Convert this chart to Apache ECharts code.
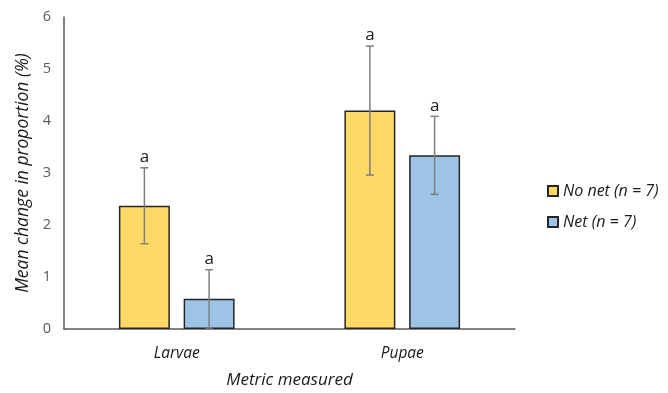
<!DOCTYPE html>
<html>
<head>
<meta charset="utf-8">
<script src="https://cdn.jsdelivr.net/npm/echarts@6/dist/echarts.min.js"></script>
<style>html,body{margin:0;padding:0;background:#fff;}#c{width:668px;height:393px;}</style>
</head>
<body>
<div id="c"></div>
<script>
var categories = ['Larvae', 'Pupae'];
var seriesNames = ['No net (n = 7)', 'Net (n = 7)'];
var noNetValues = [2.37, 4.20];
var netValues = [0.58, 3.34];
var noNetErrors = [0.73, 1.24];
var netErrors = [0.56, 0.75];
var noNetLetters = ['a', 'a'];
var netLetters = ['a', 'a'];
var yTicks = [0, 1, 2, 3, 4, 5, 6];

var FONT = 'Open Sans';
var BAR_W = 0.226, BAR_GAP = 0.27;

function errSeries(idx, values, errors, letters) {
  var data = values.map(function (v, i) { return [i, v, errors[i], letters[i]]; });
  return {
    type: 'custom',
    z: 10,
    silent: true,
    data: data,
    renderItem: function (params, api) {
      var ci = api.value(0), v = api.value(1), e = api.value(2);
      var band = api.size([1, 0])[0];
      var w = band * BAR_W, g = w * BAR_GAP;
      var off = (idx === 0 ? -1 : 1) * (w + g) / 2;
      var top = api.coord([ci, v + e]);
      var bot = api.coord([ci, Math.max(0, v - e)]);
      var x = top[0] + off;
      var cap = 4;
      var st = { stroke: '#7f7f7f', lineWidth: 1.5 };
      return {
        type: 'group',
        children: [
          { type: 'line', shape: { x1: x, y1: top[1], x2: x, y2: bot[1] }, style: st },
          { type: 'line', shape: { x1: x - cap, y1: top[1], x2: x + cap, y2: top[1] }, style: st },
          { type: 'line', shape: { x1: x - cap, y1: bot[1], x2: x + cap, y2: bot[1] }, style: st },
          { type: 'text', x: x, y: top[1] - 2, style: { text: data[params.dataIndex][3], fill: '#1a1a1a', font: '17px "' + FONT + '"', textAlign: 'center', textVerticalAlign: 'bottom' } }
        ]
      };
    }
  };
}

var chart = echarts.init(document.getElementById('c'));
chart.setOption({
  animation: false,
  backgroundColor: '#fff',
  grid: { left: 64, right: 153, top: 17, bottom: 64, outerBoundsMode: 'none', containLabel: false },
  legend: {
    orient: 'vertical',
    left: 542, top: 178,
    itemWidth: 10, itemHeight: 10, itemGap: 15,
    icon: 'rect',
    data: seriesNames,
    textStyle: { fontFamily: FONT, fontStyle: 'italic', fontSize: 16, color: '#1a1a1a' }
  },
  xAxis: {
    type: 'category',
    data: categories,
    name: 'Metric measured',
    nameLocation: 'middle',
    nameGap: 43,
    nameTextStyle: { fontFamily: FONT, fontStyle: 'italic', fontSize: 17, color: '#1a1a1a' },
    axisLine: { lineStyle: { color: '#595959', width: 1.5 } },
    axisTick: { show: false },
    axisLabel: { margin: 17, fontFamily: FONT, fontStyle: 'italic', fontSize: 15.5, color: '#1a1a1a' }
  },
  yAxis: {
    type: 'value',
    min: yTicks[0], max: yTicks[yTicks.length - 1], interval: 1,
    name: 'Mean change in proportion (%)',
    nameLocation: 'middle',
    nameGap: 31,
    nameTextStyle: { fontFamily: FONT, fontStyle: 'italic', fontSize: 17.5, color: '#1a1a1a' },
    axisLine: { show: true, lineStyle: { color: '#595959', width: 1.5 } },
    axisTick: { show: false },
    splitLine: { show: false },
    axisLabel: { margin: 13, fontFamily: FONT, fontSize: 14.5, color: '#595959' }
  },
  series: [
    { name: seriesNames[0], type: 'bar', data: noNetValues, barWidth: (BAR_W * 100) + '%', barGap: (BAR_GAP * 100) + '%',
      itemStyle: { color: '#FFD966', borderColor: '#262626', borderWidth: 1.5 } },
    { name: seriesNames[1], type: 'bar', data: netValues, barWidth: (BAR_W * 100) + '%', barGap: (BAR_GAP * 100) + '%',
      itemStyle: { color: '#9DC3E6', borderColor: '#262626', borderWidth: 1.5 } },
    errSeries(0, noNetValues, noNetErrors, noNetLetters),
    errSeries(1, netValues, netErrors, netLetters)
  ]
});
</script>
</body>
</html>
